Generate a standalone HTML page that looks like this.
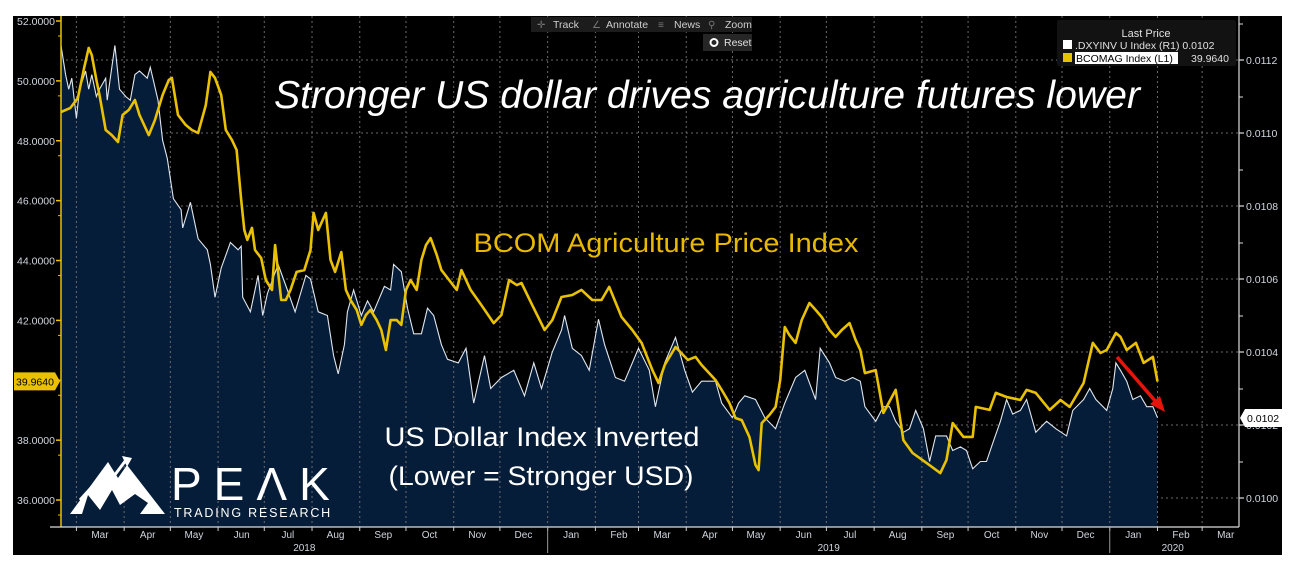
<!DOCTYPE html>
<html><head><meta charset="utf-8"><style>
html,body{margin:0;padding:0;background:#fff;}
svg{display:block;font-family:"Liberation Sans",sans-serif;}
</style></head><body>
<svg id="chart" width="1296" height="570" viewBox="0 0 1296 570">
<rect x="13" y="16" width="1269" height="539" fill="#000"/>
<g id="grid"></g>
<g id="series"></g>
<g id="axes"></g>
<g id="overlay"></g>
</svg>
<script>
// Data: [days since 2018-02-19, value]
const baseDate = [2018, 1, 19];
const goldDays = [0,6,11,15,18,20,23,25,29,33,37,40,44,48,51,57,61,66,70,72,76,81,85,89,94,97,100,104,107,111,114,117,119,121,124,126,130,133,137,139,143,146,149,153,158,162,164,167,172,175,178,182,185,188,192,195,198,201,205,208,211,214,218,221,224,227,231,234,237,240,244,247,252,257,260,266,273,281,286,291,296,299,306,314,319,325,332,338,345,351,356,364,371,377,384,388,392,399,407,412,416,425,429,434,438,442,447,451,453,455,460,464,467,470,473,477,481,486,490,494,499,503,507,512,516,519,522,529,534,542,547,553,562,571,575,579,586,592,594,603,607,614,623,627,633,642,649,655,664,670,675,679,685,688,692,698,703,709,712];
const goldVals = [48.96,49.09,49.43,50.43,51.1,50.86,50.03,49.53,48.36,48.19,47.96,48.86,49.03,49.36,48.86,48.19,48.69,49.53,50.03,50.10,48.86,48.53,48.36,48.26,49.19,50.30,50.10,49.53,48.36,48.03,47.69,46.02,45.02,44.69,45.09,44.35,44.08,43.35,43.02,44.52,42.68,42.68,43.02,43.62,43.68,44.35,45.59,45.02,45.59,44.02,43.62,44.28,43.02,42.68,42.35,41.85,42.18,42.35,42.01,41.68,41.01,42.01,42.01,41.85,43.02,43.35,43.02,44.02,44.52,44.75,44.18,43.68,43.35,43.02,43.68,43.02,42.51,41.91,42.18,43.35,43.18,43.25,42.51,41.68,42.01,42.78,42.85,43.02,42.68,42.68,43.12,42.11,41.68,41.25,40.34,39.91,40.51,41.11,40.68,40.78,40.51,40.01,39.68,39.24,38.74,38.67,38.11,37.17,37.00,38.57,38.84,39.11,40.01,41.78,41.51,41.25,42.01,42.58,42.35,42.11,41.68,41.45,41.68,41.91,41.35,41.01,40.24,40.34,38.91,39.68,38.00,37.57,37.24,36.90,37.34,38.57,38.11,38.11,39.11,39.01,39.58,39.44,39.34,39.68,39.58,39.01,39.34,39.11,39.91,41.25,40.91,41.01,41.58,41.45,41.01,41.25,40.58,40.78,39.96];
const usdDays = [0,3,5,7,10,12,16,18,20,23,25,29,30,32,35,38,42,45,48,51,56,58,63,66,69,73,78,79,84,89,95,97,100,104,110,115,117,118,123,128,131,134,141,147,152,159,162,167,173,177,180,184,186,190,195,199,203,210,214,216,221,225,229,234,238,242,247,251,258,263,268,275,279,286,294,301,307,312,319,325,327,332,338,343,349,353,360,366,375,382,386,392,399,405,410,416,425,429,436,440,444,451,457,464,470,477,483,490,493,499,503,509,514,519,522,529,534,538,542,547,551,555,560,564,568,575,579,584,588,592,597,601,605,610,614,618,623,627,633,640,646,653,657,664,668,672,679,683,685,688,692,696,701,705,709,712];
const usdVals = [.01124,.01116,.01112,.01115,.01104,.01112,.01117,.01112,.01116,.01110,.01112,.01115,.01109,.01115,.01124,.01112,.01110,.01109,.01116,.01117,.01115,.01118,.01109,.01098,.01093,.01082,.01079,.01074,.01081,.01071,.01068,.01064,.01055,.01063,.01070,.01068,.01069,.01055,.01051,.01061,.01050,.01056,.01064,.01057,.01051,.01061,.01060,.01051,.01050,.01039,.01034,.01042,.01051,.01057,.01050,.01054,.01051,.01058,.01057,.01064,.01062,.01052,.01045,.01045,.01052,.01050,.01042,.01038,.01037,.01041,.01026,.01039,.01030,.01033,.01035,.01028,.01037,.01030,.01040,.01046,.01050,.01041,.01039,.01035,.01049,.01042,.01033,.01032,.01041,.01035,.01025,.01037,.01044,.01035,.01029,.01032,.01032,.01026,.01022,.01026,.01028,.01027,.01022,.01019,.01026,.01033,.01035,.01027,.01041,.01037,.01033,.01032,.01033,.01032,.01025,.01021,.01025,.01025,.01021,.01018,.01019,.01024,.01019,.01010,.01017,.01017,.01013,.01014,.01013,.01008,.01010,.01010,.01015,.01021,.01027,.01023,.01024,.01027,.01018,.01021,.01019,.01017,.01024,.01027,.01030,.01027,.01024,.01030,.01037,.01035,.01032,.01027,.01028,.01025,.01025,.01022];
const leftTicks = [36,38,40,42,44,46,48,50,52];
const rightTicks = [0.0100,0.0102,0.0104,0.0106,0.0108,0.0110,0.0112];
const monthNames = ["Jan","Feb","Mar","Apr","May","Jun","Jul","Aug","Sep","Oct","Nov","Dec"];
const years = [2018,2019,2020];
const lastGold = "39.9640", lastUsd = "0.0102";

const NS="http://www.w3.org/2000/svg";
const PL=61, PR=1239, PB=527;
const xDay = d => PL + d*1.54;
const yL = v => 21 + (52-v)*29.94;
const yR = v => 60 + (0.0112-v)/0.0002*73;
const b0 = new Date(baseDate[0],baseDate[1],baseDate[2]);
const dayOf = (y,m,d) => (new Date(y,m,d)-b0)/86400000;
function mk(tag, attrs, parent, text){const e=document.createElementNS(NS,tag);for(const k in attrs)e.setAttribute(k,attrs[k]);if(text!==undefined)e.textContent=text;parent.appendChild(e);return e;}
const grid=document.getElementById('grid'), series=document.getElementById('series'), axes=document.getElementById('axes');

rightTicks.forEach(t=>{const l=mk('line',{x1:PL,x2:PR,y1:yR(t),y2:yR(t),stroke:'#6a6a6a','stroke-dasharray':'2,3','stroke-width':1},grid);

});

let pts=usdDays.map((d,i)=>xDay(d).toFixed(1)+','+yR(usdVals[i]).toFixed(1));
const area=mk('polygon',{points:xDay(usdDays[0])+','+PB+' '+pts.join(' ')+' '+xDay(usdDays[usdDays.length-1])+','+PB,fill:'#061d39'},series);



for(let y=2018;y<=2020;y++)for(let m=0;m<12;m++){
  const d=dayOf(y,m,1); const x=xDay(d); if(x<=PL+2||x>=PR) continue;
  const l=mk('line',{x1:x,x2:x,y1:16,y2:PB,stroke:'#6a6a6a','stroke-dasharray':'2,3','stroke-width':1},series);
  
  
}
const usdLine=mk('polyline',{points:pts.join(' '),fill:'none',stroke:'#dfe6ee','stroke-width':1.1},series);


const gpts=goldDays.map((d,i)=>xDay(d).toFixed(1)+','+yL(goldVals[i]).toFixed(1)).join(' ');
const goldLine=mk('polyline',{points:gpts,fill:'none',stroke:'#e9c100','stroke-width':2.6,'stroke-linejoin':'round'},series);



let a=mk('line',{x1:PL,x2:PL,y1:16,y2:PB,stroke:'#e9c100','stroke-width':1.5},axes);


a=mk('line',{x1:PR,x2:PR,y1:16,y2:PB,stroke:'#ddd','stroke-width':1.2},axes);


a=mk('line',{x1:50,x2:PR,y1:PB,y2:PB,stroke:'#ddd','stroke-width':1.2},axes);



leftTicks.forEach(t=>{const y=yL(t);
  mk('line',{x1:PL-5,x2:PL,y1:y,y2:y,stroke:'#e9c100','stroke-width':1.5},axes);
  mk('line',{x1:PL-3,x2:PL,y1:y+15,y2:y+15,stroke:'#e9c100','stroke-width':1},axes);
  const tx=mk('text',{x:PL-6,y:y+4,'text-anchor':'end','font-size':10.5,fill:'#cfd6de'},axes,t.toFixed(4));
  
  });
rightTicks.forEach(t=>{const y=yR(t);
  mk('line',{x1:PR,x2:PR+5,y1:y,y2:y,stroke:'#ddd','stroke-width':1.2},axes);
  mk('line',{x1:PR,x2:PR+4,y1:y-36,y2:y-36,stroke:'#ddd','stroke-width':1},axes);
  const tx=mk('text',{x:PR+7,y:y+4,'font-size':10.5,fill:'#cfd6de'},axes,t.toFixed(4));
  
  });

for(let y=2018;y<=2020;y++)for(let m=0;m<12;m++){
  const d=dayOf(y,m,15); const x=xDay(d)+2; if(x<PL+15||x>PR-5) continue;
  const s=xDay(dayOf(y,m,1)); if(s>PL) mk('line',{x1:s,x2:s,y1:PB,y2:PB+4,stroke:'#ccc'},axes);
  const tx=mk('text',{x:x,y:538,'text-anchor':'middle','font-size':10,fill:'#cfd6de'},axes,monthNames[m]);
  
  
}
years.forEach(y=>{const s=Math.max(PL,xDay(dayOf(y,0,1))), e=Math.min(PR,xDay(dayOf(y+1,0,1)));
  if(y>2018){mk('line',{x1:s,x2:s,y1:PB,y2:553,stroke:'#999'},axes);}
  const cx= y===2020 ? s+63 : (s+e)/2;
  const tx=mk('text',{x:cx,y:551,'text-anchor':'middle','font-size':10,fill:'#cfd6de'},axes,String(y));
  
  });

const gy=yL(parseFloat(lastGold));
a=mk('polygon',{points:`14,${gy-9} 55,${gy-9} 60,${gy} 55,${gy+9} 14,${gy+9}`,fill:'#e9c100'},axes);


mk('text',{x:16,y:gy+4,'font-size':10.5,fill:'#000'},axes,lastGold);
const ry=yR(parseFloat(lastUsd))-7;
a=mk('polygon',{points:`${PR+1},${ry} ${PR+6},${ry-9} 1282,${ry-9} 1282,${ry+9} ${PR+6},${ry+9}`,fill:'#fff'},axes);


mk('text',{x:PR+8,y:ry+4,'font-size':10.5,fill:'#000'},axes,lastUsd);
</script>
<svg style="position:absolute;left:0;top:0" width="1296" height="570">
<g font-family="Liberation Sans, sans-serif">
  <rect x="531" y="17" width="221" height="15" fill="#1c1c1c"/>
  <text x="537" y="28" font-size="10" fill="#777">✛</text>
  <text x="553" y="28" font-size="10.5" fill="#cfcfcf">Track</text>
  <text x="592" y="28" font-size="10" fill="#777">∠</text>
  <text x="606" y="28" font-size="10.5" fill="#cfcfcf">Annotate</text>
  <text x="658" y="28" font-size="10" fill="#777">≡</text>
  <text x="674" y="28" font-size="10.5" fill="#cfcfcf">News</text>
  <text x="708" y="28" font-size="10" fill="#777">⚲</text>
  <text x="725" y="28" font-size="10.5" fill="#cfcfcf">Zoom</text>
  <rect x="703" y="34" width="49" height="17" fill="#262626"/>
  <circle cx="714" cy="42.5" r="3.5" fill="none" stroke="#fff" stroke-width="2"/>
  <text x="724" y="46" font-size="10.5" fill="#e0e0e0">Reset</text>

  <rect x="1057" y="20" width="179" height="46" rx="2" fill="#121212"/>
  <text x="1146" y="37" font-size="11" fill="#e0e0e0" text-anchor="middle">Last Price</text>
  <rect x="1063" y="40" width="9" height="9" fill="#fff"/>
  <text x="1075" y="49" font-size="10.5" fill="#e0e0e0">.DXYINV U Index  (R1)  0.0102</text>
  <rect x="1063" y="53" width="9" height="9" fill="#e9c100"/>
  <rect x="1075" y="52" width="103" height="12" fill="#fff"/>
  <text x="1076" y="62" font-size="10.5" fill="#000">BCOMAG Index  (L1)</text>
  <text x="1191" y="62" font-size="10.5" fill="#e0e0e0">39.9640</text>

  <text x="707" y="108" font-size="39" font-style="italic" fill="#fff" text-anchor="middle" textLength="866" lengthAdjust="spacingAndGlyphs">Stronger US dollar drives agriculture futures lower</text>
  <text x="666" y="252" font-size="27" fill="#e9b800" text-anchor="middle" textLength="385" lengthAdjust="spacingAndGlyphs">BCOM Agriculture Price Index</text>
  <text x="542" y="446" font-size="27" fill="#fff" text-anchor="middle" textLength="315" lengthAdjust="spacingAndGlyphs">US Dollar Index Inverted</text>
  <text x="541" y="485" font-size="27" fill="#fff" text-anchor="middle" textLength="305" lengthAdjust="spacingAndGlyphs">(Lower = Stronger USD)</text>

  <line x1="1117" y1="357" x2="1157" y2="403" stroke="#e8140c" stroke-width="3.5"/>
  <polygon points="1165,412 1150,404 1160,396" fill="#e8140c"/>

  <g fill="#fff">
    <polygon points="70,514 108,462 118,478 127,465 165,514 140,514 148,503 135,494 120,505 112,490 100,510 88,495 82,514"/>
    <polyline points="80,500 100,478 108,484 126,460" fill="none" stroke="#fff" stroke-width="3"/>
    <polygon points="122,456 132,458 127,467"/>
    <text x="171" y="500" font-size="46" letter-spacing="12">PEΛK</text>
    <text x="174" y="517" font-size="12.5" letter-spacing="1.8">TRADING RESEARCH</text>
  </g>
</g>
</svg>
</body></html>
